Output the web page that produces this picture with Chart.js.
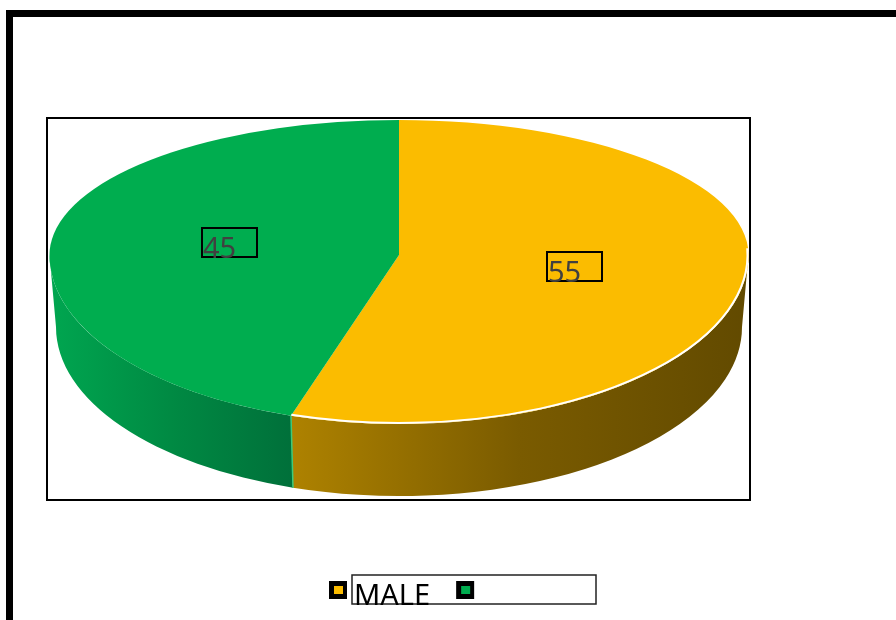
<!DOCTYPE html>
<html>
<head>
<meta charset="utf-8">
<script src="https://cdn.jsdelivr.net/npm/chart.js@4"></script>
<style>
    html, body { margin: 0; padding: 0; background: #fff; }
    canvas { display: block; }
</style>
</head>
<body>
<canvas id="pieChart" width="896" height="620"></canvas>
<script>
var categories = ["MALE", ""];
var values = [55, 45];
var topColors = ["#FBBC00", "#00AD4F"];
var sideColors = [
    ["#AE8200", "#7A5B00", "#624A00"],
    ["#00A650", "#008A43", "#00703A"]
];

// tilted disc geometry (screen pixels)
var disc = {
    cx: 399,
    cy: 255,
    rx: 349.5,
    ryTop: 135,
    ryBot: 169,
    depth: 72,
    rxBase: 343
};

//-------------------
//- 3D PIE PLUGIN -
//-------------------
var tiltedPie = {
    id: "tiltedPie",
    beforeDraw: function (chart) {
        var ctx = chart.ctx;
        ctx.save();
        ctx.fillStyle = "#fff";
        ctx.fillRect(0, 0, chart.width, chart.height);
        // outer heavy frame
        ctx.fillStyle = "#000";
        ctx.fillRect(6, 10, 7, chart.height - 10);
        ctx.fillRect(6, 10, chart.width - 6, 7);
        // plot area frame
        ctx.strokeStyle = "#000";
        ctx.lineWidth = 2;
        ctx.strokeRect(47, 118, 703, 382);
        ctx.restore();
    },
    beforeDatasetsDraw: function (chart) {
        var ctx = chart.ctx;
        var arcs = chart.getDatasetMeta(0).data;
        var d = disc;

        // side walls, only the front half (0..PI) is visible
        arcs.forEach(function (arc, i) {
            var s = arc.startAngle, e = arc.endAngle;
            var a1 = Math.max(s, 0), a2 = Math.min(e, Math.PI);
            if (a2 <= a1) return;
            var x1 = d.cx + d.rx * Math.cos(a1);
            var x2 = d.cx + d.rx * Math.cos(a2);
            var g = ctx.createLinearGradient(Math.min(x1, x2), 0, Math.max(x1, x2), 0);
            var c = sideColors[i];
            g.addColorStop(0, c[0]);
            g.addColorStop(0.5, c[1]);
            g.addColorStop(1, c[2]);
            ctx.save();
            ctx.beginPath();
            ctx.ellipse(d.cx, d.cy, d.rx, d.ryBot, 0, a1, a2);
            ctx.lineTo(d.cx + d.rxBase * Math.cos(a2), d.cy + d.depth + d.ryBot * Math.sin(a2));
            ctx.ellipse(d.cx, d.cy + d.depth, d.rxBase, d.ryBot, 0, a2, a1, true);
            ctx.closePath();
            ctx.fillStyle = g;
            ctx.fill();
            ctx.restore();
        });

        // edge between the two walls
        arcs.forEach(function (arc) {
            var a = arc.endAngle;
            if (a > 0 && a < Math.PI) {
                ctx.save();
                ctx.strokeStyle = "#3CC97A";
                ctx.lineWidth = 1.5;
                ctx.beginPath();
                ctx.moveTo(d.cx + d.rx * Math.cos(a), d.cy + d.ryBot * Math.sin(a));
                ctx.lineTo(d.cx + d.rxBase * Math.cos(a), d.cy + d.depth + d.ryBot * Math.sin(a));
                ctx.stroke();
                ctx.restore();
            }
        });

        // top face: back half and front half squashed separately
        [true, false].forEach(function (back) {
            ctx.save();
            ctx.beginPath();
            if (back) ctx.rect(0, 0, chart.width, d.cy);
            else ctx.rect(0, d.cy, chart.width, chart.height - d.cy);
            ctx.clip();
            arcs.forEach(function (arc) {
                var R = arc.outerRadius;
                ctx.save();
                ctx.translate(d.cx, d.cy);
                ctx.scale(d.rx / R, (back ? d.ryTop : d.ryBot) / R);
                ctx.translate(-arc.x, -arc.y);
                arc.draw(ctx);
                ctx.restore();
            });
            ctx.restore();
        });

        // light rim on the front of the first slice
        var first = arcs[0];
        var r1 = Math.max(first.startAngle, -0.04), r2 = Math.min(first.endAngle, Math.PI);
        ctx.save();
        ctx.strokeStyle = "#fff";
        ctx.lineWidth = 2;
        ctx.beginPath();
        ctx.ellipse(d.cx, d.cy, d.rx - 1, d.ryBot - 1, 0, r1, r2);
        ctx.stroke();
        ctx.restore();

        return false;
    },
    afterDraw: function (chart) {
        var ctx = chart.ctx;
        var meta = chart.getDatasetMeta(0);
        var d = disc;

        // value labels in boxes
        ctx.save();
        ctx.font = "29px 'Noto Sans'";
        ctx.textBaseline = "alphabetic";
        meta.data.forEach(function (arc, i) {
            var p = arc.tooltipPosition();
            var R = arc.outerRadius;
            var x = d.cx + (p.x - arc.x) * d.rx / R;
            var dy = p.y - arc.y;
            var y = d.cy + dy * (dy < 0 ? d.ryTop : d.ryBot) / R;
            var bw = 55, bh = 29;
            var bx = Math.round(x - bw / 2 + 3), by = Math.round(y - bh / 2 - 2);
            ctx.strokeStyle = "#000";
            ctx.lineWidth = 2;
            ctx.strokeRect(bx, by, bw, bh);
            ctx.fillStyle = "#404040";
            ctx.fillText(String(values[i]), bx + 1, by + bh + 1);
        });
        ctx.restore();

        // legend
        ctx.save();
        ctx.font = "29px 'Noto Sans'";
        ctx.strokeStyle = "#222";
        ctx.lineWidth = 1.5;
        ctx.strokeRect(352, 575, 244, 29);
        var lx = 329;
        categories.forEach(function (label, i) {
            ctx.fillStyle = "#000";
            ctx.fillRect(lx, 581, 18, 18);
            ctx.fillStyle = topColors[i];
            ctx.fillRect(lx + 5, 586, 9, 8);
            var tx = lx + 25;
            ctx.fillStyle = "#000";
            ctx.fillText(label, tx, 605);
            lx = tx + ctx.measureText(label).width + 26;
        });
        ctx.restore();
    }
};

var pieChartCanvas = document.getElementById("pieChart").getContext("2d");
new Chart(pieChartCanvas, {
    type: "pie",
    data: {
        labels: categories,
        datasets: [
            {
                data: values,
                backgroundColor: topColors,
                borderWidth: 0
            }
        ]
    },
    options: {
        responsive: false,
        animation: false,
        events: [],
        layout: { padding: 0 },
        plugins: {
            legend: { display: false },
            tooltip: { enabled: false }
        }
    },
    plugins: [tiltedPie]
});
</script>
</body>
</html>
